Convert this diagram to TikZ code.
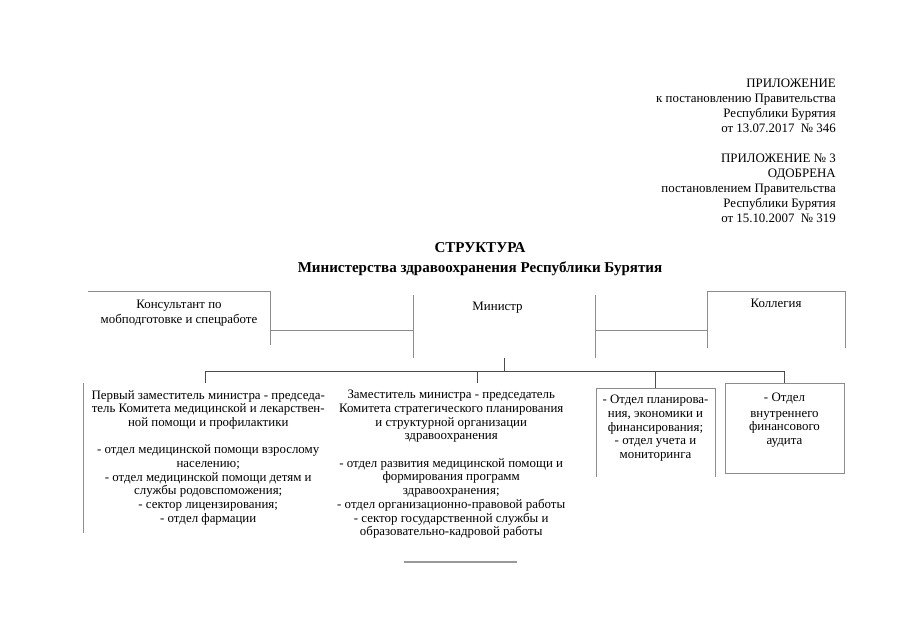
\documentclass[tikz,border=0pt]{standalone}
\usepackage{fontspec}
\setmainfont{Liberation Serif}
\usetikzlibrary{positioning,fit}

\begin{document}
\begin{tikzpicture}[x=0.9304pt,y=-0.9304pt,
  frame/.style={inner sep=0pt,outer sep=0pt},
  frame line/.style={draw=black!45,line width=0.8pt},
  link/.style={draw=black!70,line width=0.8pt},
  box text/.style={align=center,inner sep=0pt,font=\fontsize{12}{12.75}\selectfont}]

  \useasboundingbox (0,0) rectangle (905,640);

  % header
  \node[anchor=north east,align=right,inner sep=0pt,font=\fontsize{12}{13.9}\selectfont] (annex) at (836,79)
    {ПРИЛОЖЕНИЕ\\к постановлению Правительства\\Республики Бурятия\\от 13.07.2017~~№ 346\\[13.9pt]
     ПРИЛОЖЕНИЕ № 3\\ОДОБРЕНА\\постановлением Правительства\\Республики Бурятия\\от 15.10.2007~~№ 319};
  \node[align=center,inner sep=0pt,font=\fontsize{14}{18}\selectfont\bfseries] (title) at (480,259)
    {СТРУКТУРА\\Министерства здравоохранения Республики Бурятия};

  % frames
  \node[frame,fit={(88,291) (270,345)}] (kons) {};
  \node[frame,fit={(413,295) (595,358)}] (minbox) {};
  \node[frame,fit={(707,291) (845,348)}] (koll) {};
  \node[frame,fit={(83,383) (327,533)}] (zam1) {};
  \node[frame,fit={(357,383) (597,540)}] (zam2) {};
  \node[frame,fit={(596,388) (715,477)}] (plan) {};
  \node[frame,fit={(725,383) (844,473)}] (audit) {};

  % texts
  \node[box text,below=8.5pt of kons.north,font=\fontsize{12}{14}\selectfont] (konstext) {Консультант по\\мобподготовке и спецработе};
  \node[box text,below=6.5pt of minbox.north,xshift=-6pt] (mintext) {Министр};
  \node[box text,below=7pt of koll.north] (kolltext) {Коллегия};
  \node[box text,below=6.5pt of zam1.north,xshift=3pt] (zam1text)
    {Первый заместитель министра - председа-\\тель Комитета медицинской и лекарствен-\\ной помощи и профилактики\\[12.75pt]
     - отдел медицинской помощи взрослому\\населению;\\- отдел медицинской помощи детям и\\службы родовспоможения;\\- сектор лицензирования;\\- отдел фармации};
  \node[box text,below=6.5pt of zam2.north,xshift=-24pt] (zam2text)
    {Заместитель министра - председатель\\Комитета стратегического планирования\\и структурной организации\\здравоохранения\\[12.75pt]
     - отдел развития медицинской помощи и\\формирования программ\\здравоохранения;\\- отдел организационно-правовой работы\\- сектор государственной службы и\\образовательно-кадровой работы};
  \node[box text,below=6.5pt of plan.north] (plantext)
    {- Отдел планирова-\\ния, экономики и\\финансирования;\\- отдел учета и\\мониторинга};
  \node[box text,below=9pt of audit.north] (audittext)
    {- Отдел\\[2pt]внутреннего\\финансового\\аудита};

  % frame edges
  \draw[frame line] (kons.north west) -- (kons.north east) -- (kons.south east);
  \draw[frame line] (minbox.north west) -- (minbox.south west) (minbox.north east) -- (minbox.south east);
  \draw[frame line] (koll.south west) -- (koll.north west) -- (koll.north east) -- (koll.south east);
  \draw[frame line] (zam1.north west) -- (zam1.south west);
  \draw[frame line] (plan.south west) -- (plan.north west) -- (plan.north east) -- (plan.south east);
  \draw[frame line] (audit.north west) rectangle (audit.south east);

  % connectors
  \coordinate (lvl) at (0,330);
  \coordinate (bus) at (0,371);
  \draw[frame line] (kons.east |- lvl) -- (minbox.west |- lvl);
  \draw[frame line] (minbox.east |- lvl) -- (koll.west |- lvl);
  \draw[link] (minbox.south) -- (minbox.south |- bus);
  \draw[link] (zam1.north |- bus) -- (audit.north |- bus);
  \foreach \b in {zam1,zam2,plan,audit}
    \draw[link] (\b.north |- bus) -- (\b.north);

  \draw[black!40,line width=1.2pt] (404,562) -- (517,562);
\end{tikzpicture}
\end{document}
